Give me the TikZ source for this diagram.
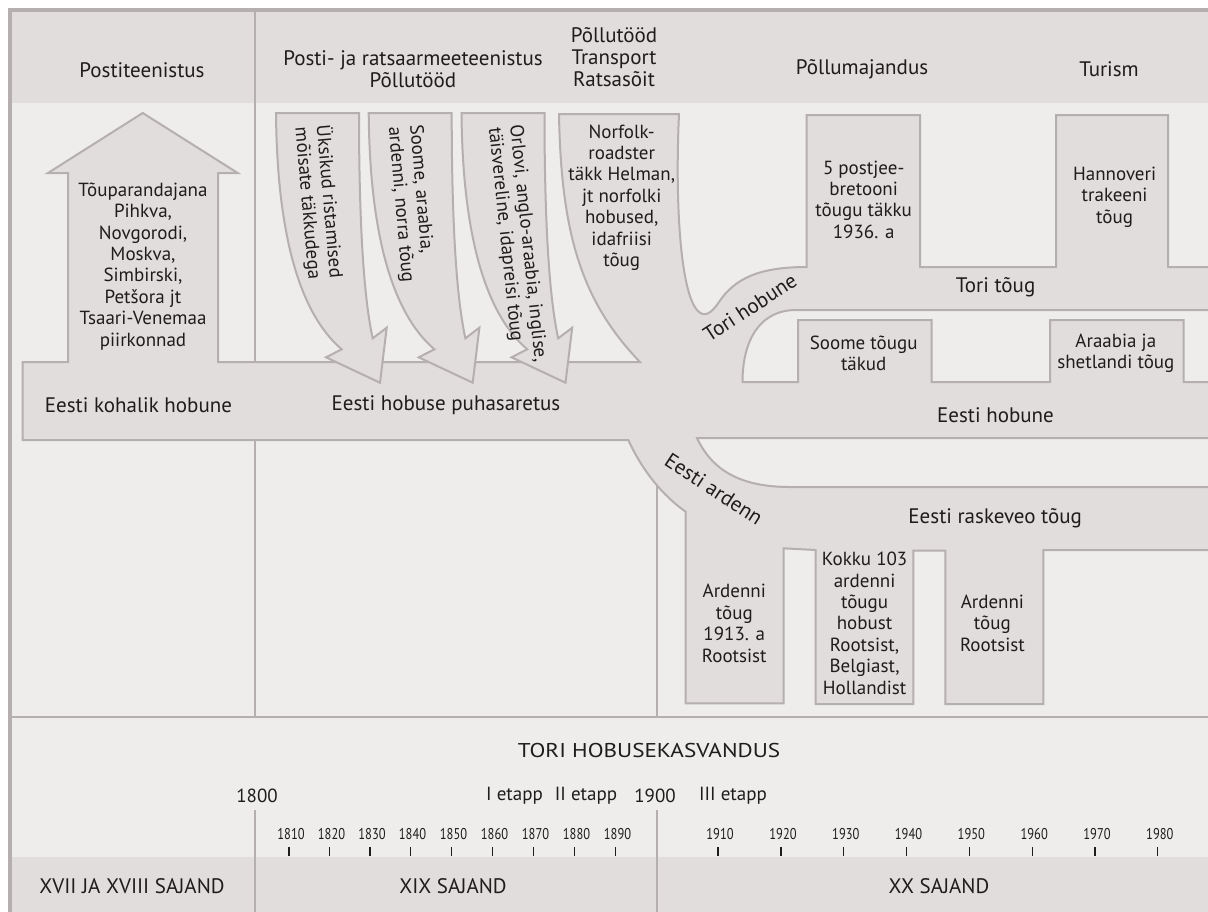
\documentclass[tikz,border=0pt]{standalone}
\usepackage{fontspec}
\setmainfont{PT Sans}
\definecolor{hdr}{RGB}{224,221,220}
\definecolor{bgc}{RGB}{238,237,235}
\definecolor{shp}{RGB}{224,221,220}
\definecolor{lnc}{RGB}{182,175,175}
\definecolor{txt}{RGB}{30,28,28}
\tikzset{
  lbl/.style={inner sep=0pt, align=center, text=txt, font=\fontsize{9.5}{10.7}\selectfont},
  big/.style={lbl, font=\fontsize{10.5}{11}\selectfont},
  rlbl/.style={lbl, align=left, anchor=north west},
  blob/.style={fill=shp, draw=lnc, line width=1pt, line join=miter},
  divider/.style={draw=lnc, line width=1pt},
  dec/.style={inner sep=0pt, text=txt, font=\fontsize{7.8}{8}\selectfont},
  tickmark/.style={draw=txt, line width=0.6pt}
}
\begin{document}
\begin{tikzpicture}[x=0.5pt,y=-0.5pt]
\useasboundingbox (0,0) rectangle (1208,911);
\clip (0,0) rectangle (1208,911);
% backgrounds
\fill[white] (0,0) rectangle (1208,911);
\fill[hdr] (10,10) rectangle (1212,103);
\fill[bgc] (10,103) rectangle (1212,857);
\fill[hdr] (10,857) rectangle (1212,915);
\draw[divider] (10,717) -- (1212,717);
\draw[divider] (255,10) -- (255,717);
\draw[divider] (657,440) -- (657,717);
\draw[divider] (255,810) -- (255,915);
\draw[divider] (657,810) -- (657,915);
\draw[draw=lnc, line width=1.6pt] (10,915) -- (10,10) -- (1212,10);

% main big shape
\draw[blob] (22.7,440) -- (22.7,362) -- (68,362) -- (68,173) -- (48,173) -- (142.7,113) -- (237.7,173) -- (218,173) -- (218,362) -- (640,362)
  .. controls (580,300) and (561,230) .. (559,114)
  -- (679,114)
  .. controls (675,200) and (680,290) .. (697,310)
  .. controls (704,318) and (711,314) .. (719,302)
  .. controls (735,278) and (760,267) .. (806.7,267)
  -- (806.7,115) -- (920,115) -- (920,267) -- (1056,267) -- (1056,115) -- (1168,115) -- (1168,267) -- (1214,267) -- (1214,310) -- (796,310)
  .. controls (760,310) and (742.5,340) .. (742.5,382)
  -- (798,382) -- (798,320) -- (931.6,320) -- (931.6,382) -- (1050,382) -- (1050,320) -- (1183.6,320) -- (1183.6,382) -- (1214,382) -- (1214,438) -- (697,438)
  .. controls (712,470) and (740,487) .. (790,487)
  -- (1214,487) -- (1214,550) -- (1043.3,550) -- (1043.3,704) -- (945.4,704) -- (945.4,550.7) -- (913.4,550.7) -- (913.4,704) -- (815.5,704) -- (815.5,550) -- (783.5,548.3) -- (783.5,703.3) -- (685.6,703.3) -- (685.6,511.7)
  .. controls (662,495) and (642,470) .. (628.3,440)
  -- cycle;

% curved arrows
\foreach \dx in {0,92.7,185.5}{
  \draw[blob, xshift=\dx*0.5pt] (276,113) -- (359,113)
    .. controls (359,200) and (362,290) .. (372.7,338.3)
    -- (386.7,327.7) -- (380,382.7) -- (326,357.3) -- (341.7,349.3)
    .. controls (298,312) and (277,230) .. (276,113) -- cycle;
}

% header texts
\node[big] (h1) at (142,70) {Postiteenistus};
\node[big] (h2) at (413,69) {Posti- ja ratsaarmeeteenistus\\Põllutööd};
\node[big] (h3) at (614,57) {Põllutööd\\Transport\\Ratsasõit};
\node[big] (h4) at (862,69) {Põllumajandus};
\node[big] (h5) at (1109,69) {Turism};

% shape texts
\node[lbl] (up) at (143,266.4) {Tõuparandajana\\Pihkva,\\Novgorodi,\\Moskva,\\Simbirski,\\Petšora jt\\Tsaari-Venemaa\\piirkonnad};
\node[big] (kohalik) at (138.5,405) {Eesti kohalik hobune};
\node[big] (puhas) at (446,405) {Eesti hobuse puhasaretus};
\node[rlbl, rotate=-85] (a1) at (333,124) {Üksikud ristamised\\mõisate täkkudega};
\node[rlbl, rotate=-85] (a2) at (424,124) {Soome, araabia,\\ardenni, norra tõug};
\node[rlbl, rotate=-84] (a3) at (524,124) {Orlovi, anglo-araabia, inglise,\\täisvereline, idapreisi tõug};
\node[lbl] (norfolk) at (621.7,197.5) {Norfolk-\\roadster\\täkk Helman,\\jt norfolki\\hobused,\\idafriisi\\tõug};
\node[big, rotate=33] (torih) at (750,307.5) {Tori hobune};
\node[lbl] (postjee) at (863.7,199.5) {5 postjee-\\bretooni\\tõugu täkku\\1936. a};
\node[lbl] (hann) at (1114.6,197) {Hannoveri\\trakeeni\\tõug};
\node[big] (torit) at (995.6,287.3) {Tori tõug};
\node[lbl] (soome) at (863.7,353.3) {Soome tõugu\\täkud};
\node[lbl] (araabia) at (1115.8,353) {Araabia ja\\shetlandi tõug};
\node[big] (eh) at (995.5,415) {Eesti hobune};
\node[big, rotate=-33] (ard) at (714,489) {Eesti ardenn};
\node[big] (rask) at (995.2,518.3) {Eesti raskeveo tõug};
\node[lbl] (b1) at (734.3,623.3) {Ardenni\\tõug\\1913. a\\Rootsist};
\node[lbl] (b2) at (864.6,623.3) {Kokku 103\\ardenni\\tõugu\\hobust\\Rootsist,\\Belgiast,\\Hollandist};
\node[lbl] (b3) at (992.4,623.3) {Ardenni\\tõug\\Rootsist};

% timeline
\node[lbl] (tori) at (649,750) {\scalebox{1.22}[1.05]{TORI HOBUSEKASVANDUS}};
\node[lbl] (y1800) at (257,796) {1800};
\node[lbl] (e1) at (514.5,796) {I etapp};
\node[lbl] (e2) at (586,796) {II etapp};
\node[lbl] (y1900) at (655,796) {1900};
\node[lbl] (e3) at (733,796) {III etapp};
\foreach \yr/\xx in {1810/290,1820/330.5,1830/371,1840/411.5,1850/452.5,1860/493.5,1870/534.5,1880/575.5,1890/616.5,1910/719,1920/782,1930/844.8,1940/907.5,1950/970.3,1960/1033.2,1970/1096,1980/1158.8}{
  \node[dec] (d\yr) at (\xx+1,834) {\scalebox{0.8}[1]{\yr}};
  \draw[tickmark] (\xx-1,847) -- (\xx-1,856);
}
\node[big] (c1) at (132,886) {XVII JA XVIII SAJAND};
\node[big] (c2) at (453,886) {XIX SAJAND};
\node[big] (c3) at (939,886) {XX SAJAND};
\end{tikzpicture}
\end{document}
